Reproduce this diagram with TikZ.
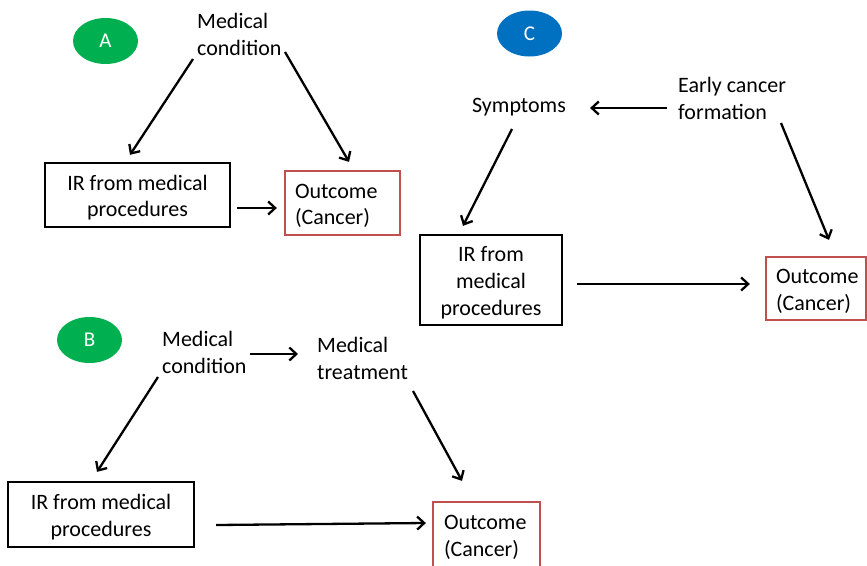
\documentclass[tikz,border=0pt]{standalone}
\usepackage{fontspec}
\setmainfont{Carlito}
\usetikzlibrary{arrows.meta,shapes.geometric}
\definecolor{panelgreen}{HTML}{00B050}
\definecolor{panelblue}{HTML}{0070C0}
\definecolor{outred}{HTML}{C0504D}
% strut used inside boxed labels (taller above the baseline)
\newcommand\boxstrut{\rule[-5pt]{0pt}{26.7pt}}
\begin{document}
\begin{tikzpicture}[x=1pt,y=-1pt,
  bodyfont/.style={font=\fontsize{22}{26.7}\selectfont},
  txt/.style={bodyfont, inner sep=0pt, align=left},
  irbox/.style={bodyfont, draw=black, line width=2.3pt, align=center, inner sep=0pt},
  outbox/.style={bodyfont, draw=outred, line width=2.3pt, align=left, inner xsep=10pt, inner ysep=0pt},
  badge/.style={ellipse, inner sep=0pt, minimum width=65pt, minimum height=46pt,
    text=white, font=\fontsize{21}{24}\selectfont},
  arr/.style={line width=2.3pt, -{Straight Barb[length=7pt,width=13pt]}}
]
\useasboundingbox (0,0) rectangle (867,565);
\clip (0,0) rectangle (867,565);

% ---------- panel A ----------
\node[badge, fill=panelgreen] (badgeA) at (105.5,41) {A};
\node[txt, anchor=west] (condA) at (197,36.5) {Medical\strut\\condition\strut};
\node[irbox, minimum width=185pt, minimum height=64pt] (irA) at (137.5,195)
  {IR from medical\boxstrut\\procedures\boxstrut};
\node[outbox, text width=95pt, minimum height=64pt] (outA) at (342.5,203)
  {Outcome\boxstrut\\(Cancer)\boxstrut};
\draw[arr] ([shift={(-4,22.5)}]condA.west) -- ([shift={(-7.5,-7)}]irA.north);
\draw[arr] ([shift={(88,15.5)}]condA.west) -- ([shift={(6.5,-8)}]outA.north);
\draw[arr] ([shift={(6,13)}]irA.east) -- ([shift={(-7,5)}]outA.west);

% ---------- panel C ----------
\node[badge, fill=panelblue] (badgeC) at (529.5,33.5) {C};
\node[txt] (sympC) at (519,107.5) {Symptoms\strut};
\node[txt, anchor=west] (earlyC) at (678,100.5) {Early cancer\strut\\formation\strut};
\node[irbox, minimum width=142pt, minimum height=90pt] (irC) at (491,280)
  {IR from\boxstrut\\medical\boxstrut\\procedures\boxstrut};
\node[outbox, text width=80pt, minimum height=63pt] (outC) at (816,288.5)
  {Outcome\boxstrut\\(Cancer)\boxstrut};
\draw[arr] ([shift={(-11,7.5)}]earlyC.west) -- ([shift={(24,0.5)}]sympC.east);
\draw[arr] ([shift={(-7,21.5)}]sympC.center) -- ([shift={(-28,-8)}]irC.north);
\draw[arr] ([shift={(103,22.5)}]earlyC.west) -- ([shift={(13,-16)}]outC.north);
\draw[arr] ([shift={(14,4)}]irC.east) -- ([shift={(-15,-4.5)}]outC.west);

% ---------- panel B ----------
\node[badge, fill=panelgreen] (badgeB) at (89.5,340) {B};
\node[txt, anchor=west] (condB) at (162,355) {Medical\strut\\condition\strut};
\node[txt, anchor=west] (treatB) at (317,360.5) {Medical\strut\\treatment\strut};
\node[irbox, minimum width=186pt, minimum height=65pt] (irB) at (101,514.5)
  {IR from medical\boxstrut\\procedures\boxstrut};
\node[outbox, inner xsep=11pt, text width=85pt, minimum height=65pt] (outB) at (486.5,534.5)
  {Outcome\boxstrut\\(Cancer)\boxstrut};
\draw[arr] ([shift={(88,-1)}]condB.west) -- ([shift={(-19,-6.5)}]treatB.west);
\draw[arr] ([shift={(-4,22)}]condB.west) -- ([shift={(-4,-9)}]irB.north);
\draw[arr] ([shift={(96,30.5)}]treatB.west) -- ([shift={(-24.5,-20)}]outB.north);
\draw[arr] ([shift={(21,10.5)}]irB.east) -- ([shift={(-6,-11.5)}]outB.west);
\end{tikzpicture}
\end{document}
